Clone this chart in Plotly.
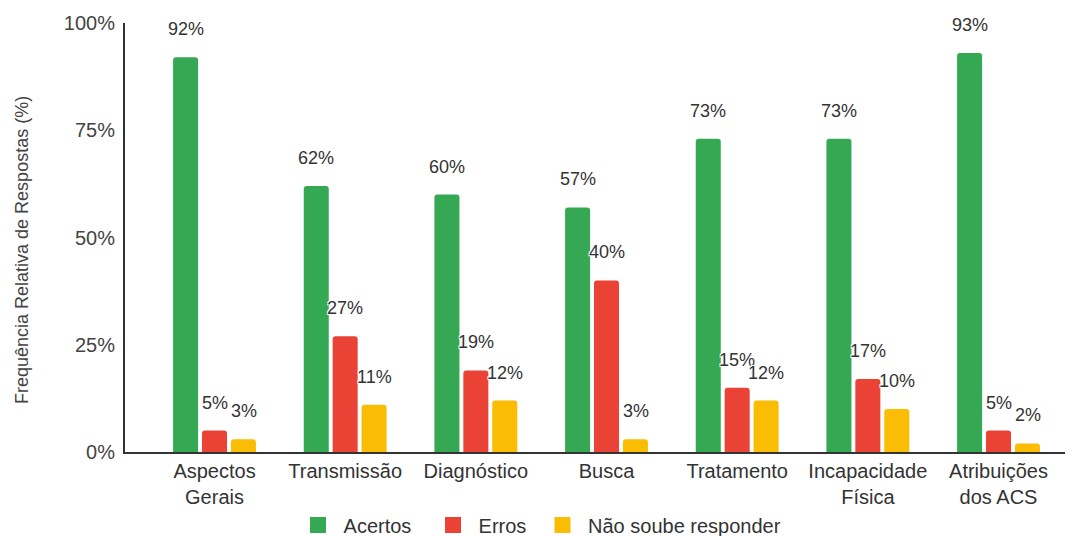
import plotly.graph_objects as go

categories = ["Aspectos<br>Gerais", "Transmissão", "Diagnóstico", "Busca",
              "Tratamento", "Incapacidade<br>Física", "Atribuições<br>dos ACS"]
series_names = ["Acertos", "Erros", "Não soube responder"]
acertos = [92, 62, 60, 57, 73, 73, 93]
erros = [5, 27, 19, 40, 15, 17, 5]
nao_soube = [3, 11, 12, 3, 12, 10, 2]
y_ticks = [0, 25, 50, 75, 100]
y_tick_labels = ["0%", "25%", "50%", "75%", "100%"]
colors = ["#34A853", "#EA4335", "#FBBC04"]

FONT = "Liberation Sans, Arial, sans-serif"
series_values = [acertos, erros, nao_soube]
NB = "\u00a0"
legend_names = [NB + series_names[0] + NB * 3, NB + series_names[1] + NB * 2,
                NB + series_names[2]]

# The page body has an 8px margin; figure coordinates = screen - 8
W, H = 1065, 528
L, T = 117, 15
PLOT_H = 429
B = H - T - PLOT_H

fig = go.Figure()
for name, vals, col in zip(series_names, series_values, colors):
    fig.add_trace(go.Bar(
        x=categories, y=vals, name=name, marker=dict(color=col, line=dict(width=0)),
        showlegend=False, hoverinfo="skip",
    ))
# legend entries
for name, col in zip(legend_names, colors):
    fig.add_trace(go.Scatter(
        x=[None], y=[None], mode="markers", name=name,
        marker=dict(symbol="square", size=16, color=col),
    ))

shadow = "-1px -1px 0 #fff, 1px -1px 0 #fff, -1px 1px 0 #fff, 1px 1px 0 #fff"
annotations = []
for i, vals in enumerate(series_values):
    for cat, v in zip(categories, vals):
        annotations.append(dict(
            x=cat, y=v, xref="x", yref="y", text=f"{v}%", showarrow=False,
            xshift=(i - 1) * 29, yshift=28, yanchor="middle", xanchor="center",
            font=dict(family=FONT, size=18, color="#333", shadow=shadow),
        ))
annotations.append(dict(
    text="Frequência Relativa de Respostas (%)", xref="paper", yref="paper",
    x=(22 - 125) / 948, y=(452 - 250) / 429, textangle=-90, showarrow=False,
    xanchor="center", yanchor="middle",
    font=dict(family=FONT, size=18, color="#444"),
))

fig.update_layout(
    width=W, height=H,
    margin=dict(l=L, r=0, t=T, b=B, autoexpand=False),
    paper_bgcolor="white", plot_bgcolor="white",
    barmode="group", bargap=0.336, bargroupgap=0.135, barcornerradius=3,
    font=dict(family=FONT, size=18, color="#333"),
    annotations=annotations,
    legend=dict(orientation="h", x=(542 - 125) / 948, xanchor="center",
                y=(452 - 525) / 429, yanchor="middle",
                font=dict(family=FONT, size=20, color="#333")),
    xaxis=dict(range=[-0.685, 6.57], showgrid=False, showline=True,
               linecolor="#333", linewidth=2, ticks="",
               tickfont=dict(family=FONT, size=20, color="#333"),
               zeroline=False, automargin=False),
    yaxis=dict(range=[0, 100], tickmode="array", tickvals=y_ticks, ticktext=y_tick_labels,
               showgrid=False, automargin=False,
               showline=True, linecolor="#333", linewidth=2, ticks="outside",
               ticklen=4, tickcolor="rgba(0,0,0,0)", zeroline=False,
               tickfont=dict(family=FONT, size=20, color="#444")),
)

fig.write_html("out.html")
